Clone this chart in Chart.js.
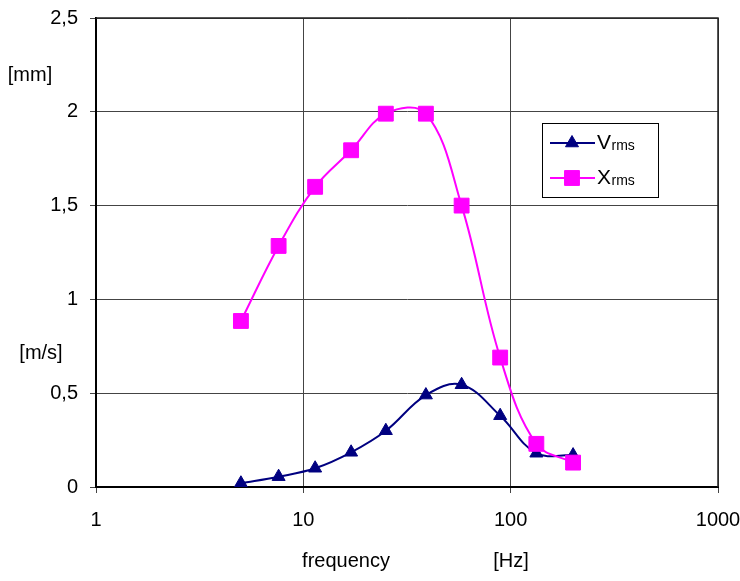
<!DOCTYPE html>
<html>
<head>
<meta charset="utf-8">
<script src="https://cdn.jsdelivr.net/npm/chart.js@4/dist/chart.umd.min.js"></script>
<style>
  html, body { margin: 0; padding: 0; background: #fff; }
  #wrap { width: 740px; height: 581px; position: relative; }
</style>
</head>
<body>
<div id="wrap"><canvas id="c" width="740" height="581"></canvas></div>
<script>
// Measured response versus excitation frequency
const frequencies = [5, 7.6, 11.4, 17, 25, 39, 58, 89, 133, 200];   // Hz
const vrms = [0.02, 0.055, 0.10, 0.185, 0.30, 0.49, 0.545, 0.38, 0.18, 0.17]; // m/s
const xrms = [0.885, 1.285, 1.60, 1.795, 1.99, 1.99, 1.50, 0.69, 0.23, 0.13]; // mm
const freqTicks = [1, 10, 100, 1000];
const yTickLabels = ['0', '0,5', '1', '1,5', '2', '2,5'];

const FONT = '"Liberation Sans", Arial, sans-serif';
const NAVY = '#000080';
const MAGENTA = '#ff00ff';

const toPoints = (ys) => frequencies.map((f, i) => ({ x: f, y: ys[i] }));

// Axis captions and the boxed legend with subscripted series names
const decorations = {
  id: 'decorations',
  beforeDatasetsDraw(chart) {
    const { ctx, chartArea: a } = chart;
    ctx.save();
    ctx.strokeStyle = '#222';
    ctx.lineWidth = 1.5;
    ctx.beginPath();
    ctx.moveTo(a.left, a.top);
    ctx.lineTo(a.right, a.top);
    ctx.lineTo(a.right, a.bottom);
    ctx.stroke();
    ctx.restore();
  },
  afterDraw(chart) {
    const { ctx } = chart;
    ctx.save();
    ctx.fillStyle = '#000';
    ctx.font = '20px ' + FONT;
    ctx.textAlign = 'center';
    ctx.textBaseline = 'middle';
    ctx.fillText('[mm]', 30, 75);
    ctx.fillText('[m/s]', 41, 353);
    ctx.fillText('frequency', 346, 561);
    ctx.fillText('[Hz]', 511, 561);

    // legend box
    const bx = 542, by = 123, bw = 116, bh = 74;
    ctx.fillStyle = '#fff';
    ctx.fillRect(bx, by, bw, bh);
    ctx.strokeStyle = '#000';
    ctx.lineWidth = 1;
    ctx.strokeRect(bx + 0.5, by + 0.5, bw, bh);

    const entries = [
      { main: 'V', color: NAVY, style: 'triangle', radius: 7.5, y: 143 },
      { main: 'X', color: MAGENTA, style: 'rect', radius: 10.5, y: 178 }
    ];
    entries.forEach(e => {
      ctx.strokeStyle = e.color;
      ctx.lineWidth = 2;
      ctx.beginPath();
      ctx.moveTo(550, e.y);
      ctx.lineTo(595, e.y);
      ctx.stroke();
      ctx.fillStyle = e.color;
      ctx.strokeStyle = e.color;
      ctx.lineWidth = 1;
      Chart.helpers.drawPoint(ctx, { pointStyle: e.style, radius: e.radius, borderWidth: 1, rotation: 0 }, 572, e.y);
      ctx.fillStyle = '#000';
      ctx.textAlign = 'left';
      ctx.textBaseline = 'alphabetic';
      ctx.font = '21px ' + FONT;
      ctx.fillText(e.main, 597, e.y + 6);
      const w = ctx.measureText(e.main).width;
      ctx.font = '14px ' + FONT;
      ctx.fillText('rms', 597 + w + 0.5, e.y + 7);
    });
    ctx.restore();
  }
};

new Chart(document.getElementById('c'), {
  type: 'line',
  data: {
    datasets: [
      {
        label: 'Vrms',
        data: toPoints(vrms),
        borderColor: NAVY,
        backgroundColor: NAVY,
        borderWidth: 2,
        pointStyle: 'triangle',
        pointRadius: 7.5,
        pointBorderWidth: 1,
        tension: 0.38,
        order: 2
      },
      {
        label: 'Xrms',
        data: toPoints(xrms),
        borderColor: MAGENTA,
        backgroundColor: MAGENTA,
        borderWidth: 2,
        pointStyle: 'rect',
        pointRadius: 10.5,
        pointBorderWidth: 1,
        tension: 0.38,
        order: 1
      }
    ]
  },
  options: {
    responsive: false,
    animation: false,
    layout: { padding: { top: 18, right: 22, left: 0, bottom: 0 } },
    plugins: { legend: { display: false }, tooltip: { enabled: false } },
    scales: {
      x: {
        type: 'logarithmic',
        min: 1,
        max: 1000,
        afterBuildTicks: (s) => { s.ticks = freqTicks.map(v => ({ value: v })); },
        afterFit: (s) => { s.height = 94; s.paddingLeft = 0; s.paddingRight = 0; },
        ticks: {
          autoSkip: false,
          maxRotation: 0,
          padding: 15,
          color: '#000',
          font: { family: FONT, size: 20 },
          callback: (v) => String(v)
        },
        grid: { color: '#444', lineWidth: 1, tickLength: 6 },
        border: { color: '#000', width: 2 }
      },
      y: {
        min: 0,
        max: 2.5,
        afterFit: (s) => { s.width = 96; s.paddingTop = 0; s.paddingBottom = 0; },
        ticks: {
          stepSize: 0.5,
          padding: 12,
          color: '#000',
          font: { family: FONT, size: 20 },
          callback: (v, i) => yTickLabels[i]
        },
        grid: { color: '#444', lineWidth: 1, tickLength: 6 },
        border: { color: '#000', width: 2 }
      }
    }
  },
  plugins: [decorations]
});
</script>
</body>
</html>
